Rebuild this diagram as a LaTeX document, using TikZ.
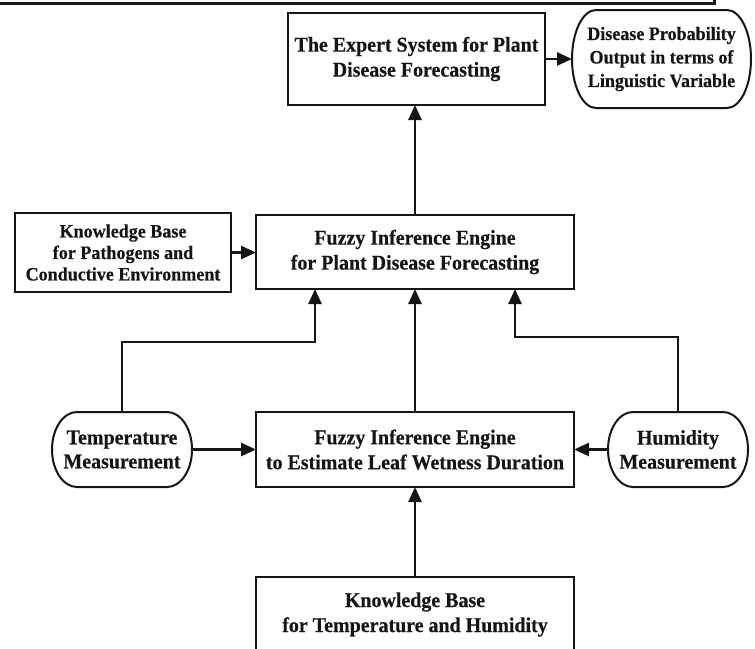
\documentclass[tikz,border=0pt]{standalone}
\usepackage{fontspec}
\setmainfont{Liberation Serif}[FakeStretch=0.95, BoldFeatures={FakeBold=0.4}]
\usetikzlibrary{arrows.meta}
\definecolor{ink}{HTML}{151515}
\newcommand\myoval[3]{%
  \draw[boxline] ([xshift=#2]#1.north west) -- ([xshift=-#2]#1.north east)
    arc[start angle=90,end angle=-90,x radius=#2,y radius=#3]
    -- ([xshift=#2]#1.south west)
    arc[start angle=270,end angle=90,x radius=#2,y radius=#3] -- cycle;}
\tikzset{
  boxline/.style={draw=ink, line width=2pt},
  box/.style={boxline, rectangle, inner sep=0pt, outer sep=0pt, align=center,
    font=\bfseries\fontsize{21}{25}\selectfont, text=ink},
  ovalnode/.style={rectangle, draw=none, inner sep=0pt, outer sep=0pt, align=center,
    font=\bfseries\fontsize{21}{24}\selectfont, text=ink},
  conn/.style={draw=ink, line width=2.6pt, -{Triangle[length=15pt,width=13pt]}}
}
\begin{document}
\begin{tikzpicture}[x=1pt,y=-1pt]
\useasboundingbox (0,0) rectangle (755,648);
\clip (0,0) rectangle (755,648);
% fragment of frame at the top
\coordinate (fa) at (0,3);
\coordinate (fb) at (714,3);
\coordinate (fc) at (714,0);
\draw[draw=ink, line width=3pt] (fa) -- (fb) -- (fc);

\node[box, minimum width=257pt, minimum height=92pt] (expert) at (416.5,59)
  {The Expert System for Plant\\Disease Forecasting};
\node[ovalnode, minimum width=179pt, minimum height=98pt,
  font=\bfseries\fontsize{19}{23.5}\selectfont] (out) at (661.5,59)
  {Disease Probability\\Output in terms of\\Linguistic Variable};
\myoval{out}{24pt}{49pt}

\node[box, minimum width=216pt, minimum height=79pt,
  font=\bfseries\fontsize{19}{21.5}\selectfont] (kb1) at (123,252.5)
  {Knowledge Base\\for Pathogens and\\Conductive Environment};
\node[box, minimum width=318pt, minimum height=74pt] (fie1) at (415,252)
  {Fuzzy Inference Engine\\for Plant Disease Forecasting};

\node[ovalnode, minimum width=140pt, minimum height=75pt] (temp) at (122,449.5)
  {Temperature\\Measurement};
\myoval{temp}{25pt}{37.5pt}
\node[box, minimum width=318pt, minimum height=75pt] (fie2) at (415,449.5)
  {Fuzzy Inference Engine\\to Estimate Leaf Wetness Duration};
\node[ovalnode, minimum width=140pt, minimum height=75pt] (hum) at (678,449.5)
  {Humidity\\Measurement};
\myoval{hum}{25pt}{37.5pt}

\node[box, minimum width=318pt, minimum height=75pt] (kb2) at (415,614.5)
  {Knowledge Base\\for Temperature and Humidity};

% connectors
\draw[conn] (expert.east) -- (out.west);
\draw[conn] (fie1.north) -- (fie1.north |- expert.south);
\draw[conn] (kb1.east) -- (kb1.east -| fie1.west);
\draw[conn] (temp.north) |- (315,342) -- (315,289);
\draw[conn] (hum.north) |- (515,337) -- (515,289);
\draw[conn] (fie2.north) -- (fie1.south);
\draw[conn] (temp.east) -- (fie2.west);
\draw[conn] (hum.west) -- (fie2.east);
\draw[conn] (kb2.north) -- (fie2.south);
\end{tikzpicture}
\end{document}
